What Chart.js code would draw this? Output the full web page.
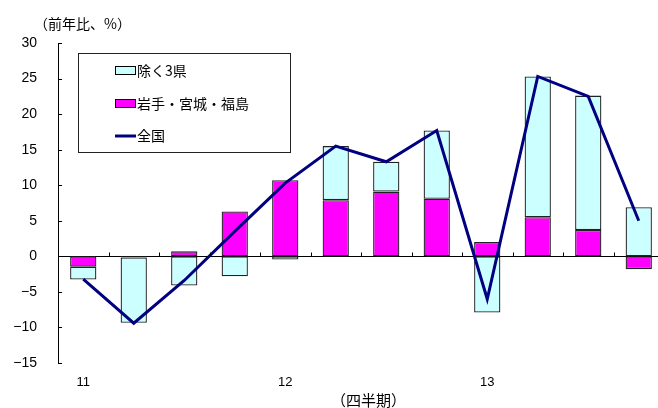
<!DOCTYPE html>
<html>
<head>
<meta charset="utf-8">
<script src="https://cdn.jsdelivr.net/npm/chart.js@4.4.0/dist/chart.umd.min.js"></script>
<style>
  html, body { margin: 0; padding: 0; background: #fff; overflow: hidden; }
  #wrap { width: 666px; height: 408px; }
</style>
</head>
<body>
<div id="wrap"><canvas id="chart" width="666" height="408"></canvas></div>
<script>
// Quarters 2011Q1 - 2013Q4
const quarters = ['11Q1', '11Q2', '11Q3', '11Q4', '12Q1', '12Q2', '12Q3', '12Q4', '13Q1', '13Q2', '13Q3', '13Q4'];
const xTickLabels = ['11', '', '', '', '12', '', '', '', '13', '', '', ''];

// Contributions (前年比、%)
const disasterPrefs = [-1.45, -0.15, 0.7, 6.3, 10.7, 7.9, 9.1, 8.1, 2.0, 5.5, 3.7, -1.8];   // 岩手・宮城・福島
const otherPrefs = [-1.8, -9.2, -4.1, -2.8, -0.45, 7.6, 4.2, 9.6, -7.9, 19.8, 18.9, 6.9];  // 除く3県
const nationwide = [-3.2, -9.4, -3.4, 3.5, 10.3, 15.5, 13.3, 17.7, -6.0, 25.3, 22.5, 5.0]; // 全国

const legendLabels = ['除く3県', '岩手・宮城・福島', '全国'];
const yMin = -15, yMax = 30, yStep = 5;

const FONT = '"Liberation Sans", "Noto Sans CJK JP", sans-serif';
const CJK = '"Noto Sans CJK JP", sans-serif';

// Extra drawing: zero line, inward tick marks, titles and boxed legend
const decorations = {
    id: 'decorations',
    beforeDatasetsDraw(chart) {
        const ctx = chart.ctx;
        const area = chart.chartArea;
        const y0 = Math.round(chart.scales.y.getPixelForValue(0)) + 0.5;
        ctx.save();
        ctx.strokeStyle = '#000';
        ctx.lineWidth = 1;
        ctx.beginPath();
        ctx.moveTo(area.left, y0);
        ctx.lineTo(area.right, y0);
        ctx.stroke();
        ctx.restore();
    },
    afterDraw(chart) {
        const ctx = chart.ctx;
        const xs = chart.scales.x;
        const ys = chart.scales.y;
        const area = chart.chartArea;
        const y0 = Math.round(ys.getPixelForValue(0)) + 0.5;
        const half = (xs.getPixelForValue(1) - xs.getPixelForValue(0)) / 2;

        ctx.save();
        ctx.strokeStyle = '#000';
        ctx.lineWidth = 1;
        ctx.beginPath();
        // x tick marks between quarters, pointing up from the zero line
        for (let i = 1; i <= quarters.length; i++) {
            const px = Math.round(xs.getPixelForValue(i - 1) + half) + 0.5;
            ctx.moveTo(px, y0);
            ctx.lineTo(px, y0 - 4);
        }
        // y tick marks pointing inward
        ys.ticks.forEach(t => {
            const py = Math.round(ys.getPixelForValue(t.value)) + 0.5;
            ctx.moveTo(area.left, py);
            ctx.lineTo(area.left + 4, py);
        });
        ctx.stroke();

        // titles
        ctx.fillStyle = '#000';
        ctx.textBaseline = 'middle';
        ctx.textAlign = 'left';
        ctx.font = '14px ' + CJK;
        ctx.fillText('（前年比、%）', 34, 24);
        ctx.font = '15px ' + CJK;
        ctx.fillText('（四半期）', 331, 400);

        // legend box
        ctx.fillStyle = '#fff';
        ctx.fillRect(78.5, 53.5, 212, 99);
        ctx.strokeStyle = '#222';
        ctx.strokeRect(78.5, 53.5, 212, 99);

        const rows = [71, 104, 136];
        ctx.font = '14px ' + CJK;
        // swatches
        ctx.fillStyle = '#CCFFFF';
        ctx.fillRect(115.5, rows[0] - 4.5, 20, 8);
        ctx.strokeStyle = '#000';
        ctx.strokeRect(115.5, rows[0] - 4.5, 20, 8);
        ctx.fillStyle = '#FF00FF';
        ctx.fillRect(115.5, rows[1] - 4.5, 20, 8);
        ctx.strokeRect(115.5, rows[1] - 4.5, 20, 8);
        ctx.strokeStyle = '#000080';
        ctx.lineWidth = 3;
        ctx.beginPath();
        ctx.moveTo(115, rows[2]);
        ctx.lineTo(136, rows[2]);
        ctx.stroke();

        ctx.fillStyle = '#000';
        legendLabels.forEach((txt, i) => ctx.fillText(txt, 137, rows[i]));
        ctx.restore();
    }
};

const ctx = document.getElementById('chart').getContext('2d');
const chart = new Chart(ctx, {
    type: 'bar',
    data: {
        labels: quarters,
        datasets: [
            {
                type: 'line',
                label: legendLabels[2],
                data: nationwide,
                borderColor: '#000080',
                borderWidth: 3,
                pointRadius: 0,
                fill: false,
                tension: 0,
                stack: 'line',
                order: 0
            },
            {
                label: legendLabels[1],
                data: disasterPrefs,
                backgroundColor: '#FF00FF',
                borderColor: '#222',
                borderWidth: 1.3,
                borderSkipped: false,
                stack: 'pref',
                order: 1
            },
            {
                label: legendLabels[0],
                data: otherPrefs,
                backgroundColor: '#CCFFFF',
                borderColor: '#222',
                borderWidth: 1.3,
                borderSkipped: false,
                stack: 'pref',
                order: 1
            }
        ]
    },
    options: {
        responsive: false,
        animation: false,
        devicePixelRatio: 1,
        categoryPercentage: 1,
        barPercentage: 0.52,
        layout: { padding: { top: 43, right: 2, left: 0, bottom: 0 } },
        plugins: {
            legend: { display: false },
            tooltip: { enabled: false }
        },
        scales: {
            x: {
                stacked: true,
                grid: { display: false, drawTicks: false },
                border: { display: false },
                ticks: {
                    autoSkip: false,
                    maxRotation: 0,
                    padding: 12,
                    color: '#000',
                    font: { family: FONT, size: 13 },
                    callback: (v, i) => xTickLabels[i]
                },
                afterFit: s => { s.height = 45; }
            },
            y: {
                stacked: true,
                min: yMin,
                max: yMax,
                grid: { display: false, drawTicks: false },
                border: { display: true, color: '#000', width: 1 },
                ticks: {
                    stepSize: yStep,
                    padding: 21,
                    color: '#000',
                    font: { family: FONT, size: 14 },
                    callback: v => v < 0 ? '−' + Math.abs(v) : String(v)
                },
                afterFit: s => { s.width = 58; }
            }
        }
    },
    plugins: [decorations]
});
</script>
</body>
</html>
